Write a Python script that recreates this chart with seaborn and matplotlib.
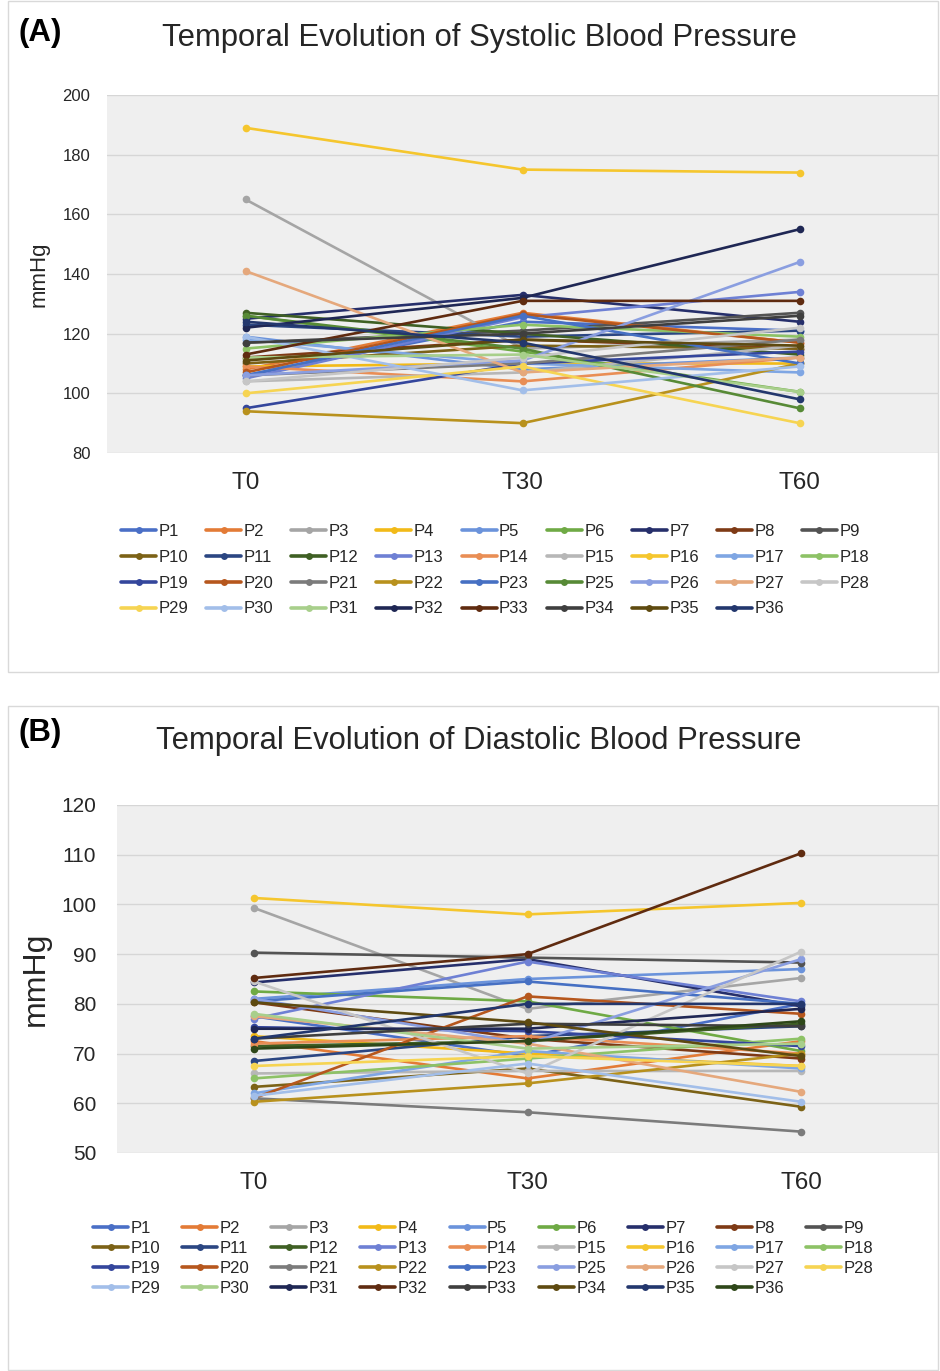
import numpy as np
import pandas as pd
import matplotlib
matplotlib.use("Agg")
import matplotlib.pyplot as plt
import seaborn as sns
from matplotlib.lines import Line2D
from matplotlib.patches import Rectangle

# ---------------- data ----------------
patients = ["P%d" % i for i in range(1, 24)] + ["P%d" % i for i in range(25, 37)]
times = ["T0", "T30", "T60"]

# Systolic (panel A)
sys_t0 = [106, 108, 165, 109, 119, 126, 125, 112, 117, 110, 123, 127, 105, 109, 104, 189, 118,
          115, 95, 107, 106, 94, 106, 126, 106, 141, 104, 100, 119, 112, 122, 113, 117, 111, 124]
sys_t30 = [124, 127, 115, 110, 108, 114, 133, 118, 121, 116, 119, 120, 125.5, 104, 107, 175, 110,
           123, 110, 126.5, 110, 90, 126, 115, 111, 107, 112, 109, 101, 113, 132, 131, 120, 118, 117]
sys_t60 = [121, 117, 118, 110, 112, 100.5, 124, 115, 127, 115, 121, 113, 134, 112, 116, 174, 107,
           119, 114, 117, 118, 110, 110, 95, 144, 112, 122, 90, 109, 100.5, 155, 131, 126, 116, 98]

# Diastolic (panel B)
dia_t0 = [77.5, 72.5, 99.3, 73.5, 81, 82.5, 84.3, 80.3, 90.3, 63.3, 68.5, 71.5, 77, 72, 66, 101.3, 62,
          65, 75.3, 61, 61, 60.3, 80.5, 81, 77.5, 84.5, 67.5, 61.5, 78, 75, 85.2, 73, 80.3, 73, 71]
dia_t30 = [69.5, 65, 79, 70, 85, 80.5, 89, 73, 89.3, 67, 73.5, 72.5, 88.5, 73.5, 66.5, 98, 70.5,
           69, 74.5, 81.5, 58.2, 64, 84.5, 72, 72, 66, 69.5, 68, 71, 75, 90, 76, 76.3, 80, 72.5]
dia_t60 = [80, 72.5, 85.2, 67.5, 87, 70.5, 79.5, 69, 88.3, 59.3, 75.5, 76, 80.5, 70, 66.5, 100.3, 67,
           73, 71.5, 78, 54.3, 70, 80, 89, 62.3, 90.5, 67.5, 60.3, 72, 79, 110.3, 75.5, 69.5, 80, 76.5]

sys_ticks = [80, 100, 120, 140, 160, 180, 200]
dia_ticks = [50, 60, 70, 80, 90, 100, 110, 120]

# Excel-like 36 colour cycle
palette36 = ["#4A6FC6", "#E37B36", "#A5A5A5", "#F2BA18", "#6B93DB", "#6FAA45",
             "#262F6B", "#7E3A15", "#535353", "#7C6216", "#2B4682", "#3F6024",
             "#6E80D4", "#E98E55", "#B7B7B7", "#F5C62E", "#7FA6E3", "#8DC266",
             "#34469C", "#B6571D", "#7B7B7B", "#B8911D", "#4670C3", "#578A36",
             "#8A9EE0", "#E5A87C", "#C6C6C6", "#F6D452", "#A2BEE9", "#A8CF8B",
             "#1F2754", "#5F2B10", "#3F3F3F", "#5E4A10", "#23376D", "#2E4719"]
idx_a = list(range(23)) + list(range(23, 35))
idx_b = list(range(23)) + list(range(24, 36))

sns.set_theme(style="white")
plt.rcParams["font.family"] = ["Liberation Sans", "DejaVu Sans"]

W, H = 940, 1371
fig = plt.figure(figsize=(W / 100, H / 100), dpi=100)

# panel frames
for (x0, y0, x1, y1) in [(8, 1, 938, 672), (8, 706, 938, 1370)]:
    fig.patches.append(Rectangle((x0 / W, 1 - y1 / H), (x1 - x0) / W, (y1 - y0) / H,
                                 transform=fig.transFigure, fill=False,
                                 edgecolor="#D9D9D9", linewidth=1.0))


def panel(box, t0, t30, t60, cidx, ticks, title, letter, title_y, letter_y,
          ytick_fs, ylabel_fs, leg_anchor, leg_spacing, col_spacing, ylab_x):
    x0, y0, x1, y1 = box
    ax = fig.add_axes([x0 / W, 1 - y1 / H, (x1 - x0) / W, (y1 - y0) / H])
    cols = [palette36[i] for i in cidx]
    pal = dict(zip(patients, cols))
    df = pd.DataFrame({
        "patient": patients * 3,
        "time": np.repeat(times, len(patients)),
        "value": list(t0) + list(t30) + list(t60),
    })
    sns.lineplot(data=df, x="time", y="value", hue="patient", hue_order=patients,
                 palette=pal, marker="o", markersize=5.5, markeredgewidth=0,
                 linewidth=1.9, legend=False, ax=ax, sort=False, errorbar=None)
    ax.set_facecolor("#EFEFEF")
    ax.set_xlim(-0.5, 2.5)
    ax.set_ylim(ticks[0], ticks[-1])
    ax.set_yticks(ticks)
    ax.yaxis.grid(True, color="#D6D6D6", linewidth=1.0)
    ax.xaxis.grid(False)
    ax.set_axisbelow(True)
    for s in ax.spines.values():
        s.set_visible(False)
    ax.tick_params(axis="y", length=0, pad=ytick_fs * 1.0, labelsize=ytick_fs, labelcolor="#262626")
    ax.tick_params(axis="x", length=0, pad=14, labelsize=17.5, labelcolor="#262626")
    ax.set_xlabel("")
    ax.set_ylabel("mmHg", fontsize=ylabel_fs, color="#262626")
    ax.yaxis.set_label_coords(ylab_x, 0.5)
    fig.text(479 / W, 1 - title_y / H, title, ha="center", va="center",
             fontsize=22.3, color="#262626")
    fig.text(18 / W, 1 - letter_y / H, letter, ha="left", va="center",
             fontsize=22.5, fontweight="bold", color="#000000")

    handles = [Line2D([], [], color=c, marker="o", markersize=5, markeredgewidth=0,
                      linewidth=2.6) for c in cols]
    ncol, nrow = 9, 4
    order = [r * ncol + c for c in range(ncol) for r in range(nrow) if r * ncol + c < len(patients)]
    fig.legend([handles[i] for i in order], [patients[i] for i in order],
               loc="upper left", bbox_to_anchor=(leg_anchor[0] / W, 1 - leg_anchor[1] / H),
               ncol=ncol, frameon=False, fontsize=12, handlelength=2.1,
               handletextpad=0.15, columnspacing=col_spacing, labelspacing=leg_spacing,
               borderpad=0, borderaxespad=0)
    return ax


panel((107, 95, 938, 453), sys_t0, sys_t30, sys_t60, idx_a, sys_ticks,
      "Temporal Evolution of Systolic Blood Pressure", "(A)", 38, 33,
      12, 16, (121, 524), 0.65, 1.07, -0.069)
panel((117, 805, 938, 1153), dia_t0, dia_t30, dia_t60, idx_b, dia_ticks,
      "Temporal Evolution of Diastolic Blood Pressure", "(B)", 741, 733,
      15, 23, (93, 1221), 0.3, 1.31, -0.08)

fig.savefig("out.png", dpi=100)
